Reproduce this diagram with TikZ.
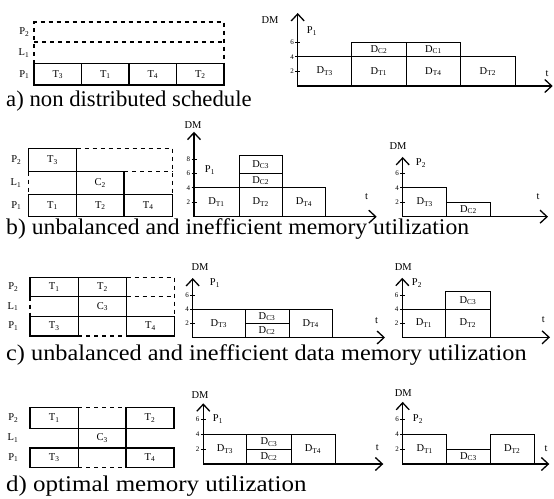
\documentclass[tikz,border=0pt]{standalone}
\usepackage{fontspec}
\usepackage{graphicx}
\setmainfont{Liberation Serif}
\usetikzlibrary{arrows.meta}
\tikzset{
  gline/.style={line width=1.3pt},
  gdash/.style={line width=1.3pt,dash pattern=on 4pt off 4pt},
  dbox/.style={line width=1pt},
  dmaxis/.style={line width=1.3pt,-{Straight Barb[length=7pt,width=13pt]}},
  dmtick/.style={line width=0.9pt},
  ticklbl/.style={anchor=east,inner sep=1pt,font=\fontsize{7}{8}\selectfont},
  lbl/.style={font=\fontsize{10.5}{12}\selectfont,inner sep=0.5pt},
  captxt/.style={anchor=west,inner sep=0pt,font=\fontsize{22.5}{24}\selectfont}
}
\begin{document}
\begin{tikzpicture}[x=1pt,y=-1pt]
\useasboundingbox (0,0) rectangle (554,498);

% a) non distributed schedule
\draw[gdash] (34,63.5) -- (34,22) -- (224,22) -- (224,63.5) (34,42) -- (224,42);
\draw[gline] (34,63.5) rectangle (224,85);
\draw[gline] (81.5,63.5) -- (81.5,85) (129,63.5) -- (129,85) (176.5,63.5) -- (176.5,85);
\foreach \x/\t in {57.8/3,105.3/1,152.8/4,200.3/2}
  \node[lbl] (aT\t) at (\x,74.5) {T\textsubscript{\t}};
\node[lbl,anchor=east] (aP2) at (30,32) {P\textsubscript{2}};
\node[lbl,anchor=east] (aL1) at (30,53) {L\textsubscript{1}};
\node[lbl,anchor=east] (aP1) at (30,74.5) {P\textsubscript{1}};
\begin{scope}[shift={(297.7,86)},y=7.3pt]
  \draw[dmaxis] (0,0) -- (0,10);
  \draw[dmaxis] (0,0) -- (255,0);
  \foreach \v in {2,4,6}
    \draw[dmtick] (-2.5,\v) -- (2.5,\v) node[ticklbl] (aV\v) at (-2.5,\v) {\v};
  \draw[dbox] (0,0) rectangle (54,4) node[midway,lbl] (aDT3) {D\textsubscript{T3}};
  \draw[dbox] (54,0) rectangle (108.3,4) node[midway,lbl] (aDT1) {D\textsubscript{T1}};
  \draw[dbox] (108.3,0) rectangle (163,4) node[midway,lbl] (aDT4) {D\textsubscript{T4}};
  \draw[dbox] (163,0) rectangle (217.3,4) node[midway,lbl] (aDT2) {D\textsubscript{T2}};
  \draw[dbox] (54,4) rectangle (108.3,6) node[midway,lbl] (aDC2) {D\textsubscript{C2}};
  \draw[dbox] (108.3,4) rectangle (163,6) node[midway,lbl] (aDC1) {D\textsubscript{C1}};
\end{scope}
\node[lbl] (aDM) at (270,20) {DM};
\node[lbl] (aPP) at (312,31) {P\textsubscript{1}};
\node[lbl] (at) at (547,74) {t};
\node[captxt] (acap) at (6,101) {\scalebox{1.01}[1]{a) non distributed schedule}};

% b) unbalanced and inefficient memory utilization
\draw[gline] (28.3,148.3) rectangle (76.7,171.7);
\draw[gline] (76.7,171.7) rectangle (124,194.3);
\draw[gline] (28.3,194.3) rectangle (172.3,216.7);
\draw[gline] (76.7,194.3) -- (76.7,216.7) (124,194.3) -- (124,216.7);
\draw[gdash] (76.7,148.3) -- (172.3,148.3) -- (172.3,194.3) (124,171.7) -- (172.3,171.7)
  (28.3,171.7) -- (28.3,194.3);
\node[lbl] (bT3) at (52.5,160) {T\textsubscript{3}};
\node[lbl] (bC2) at (100.3,183) {C\textsubscript{2}};
\node[lbl] (bT1) at (52.5,205.5) {T\textsubscript{1}};
\node[lbl] (bT2) at (100.3,205.5) {T\textsubscript{2}};
\node[lbl] (bT4) at (148.2,205.5) {T\textsubscript{4}};
\node[lbl,anchor=east] (bP2) at (22,160) {P\textsubscript{2}};
\node[lbl,anchor=east] (bL1) at (22,183) {L\textsubscript{1}};
\node[lbl,anchor=east] (bP1) at (22,205.5) {P\textsubscript{1}};
\begin{scope}[shift={(194,216.7)},y=7.2pt]
  \draw[dmaxis] (0,0) -- (0,11.8);
  \draw[dmaxis] (0,0) -- (182.7,0);
  \foreach \v in {2,4,6,8}
    \draw[dmtick] (-2.5,\v) -- (2.5,\v) node[ticklbl] (bV\v) at (-2.5,\v) {\v};
  \draw[dbox] (0,0) rectangle (45,4) node[midway,lbl] (bDT1) {D\textsubscript{T1}};
  \draw[dbox] (45,0) rectangle (88.3,4) node[midway,lbl] (bDT2) {D\textsubscript{T2}};
  \draw[dbox] (88.3,0) rectangle (131.7,4) node[midway,lbl] (bDT4) {D\textsubscript{T4}};
  \draw[dbox] (45,4) rectangle (88.3,6) node[midway,lbl] (bDC2) {D\textsubscript{C2}};
  \draw[dbox] (45,6) rectangle (88.3,8.5) node[midway,lbl] (bDC3) {D\textsubscript{C3}};
\end{scope}
\node[lbl] (bDM) at (193,125) {DM};
\node[lbl] (bPP) at (210,170) {P\textsubscript{1}};
\node[lbl] (bt) at (366.7,197) {t};
\begin{scope}[shift={(402.7,216.7)},y=7.2pt]
  \draw[dmaxis] (0,0) -- (0,8.3);
  \draw[dmaxis] (0,0) -- (145.3,0);
  \foreach \v in {2,4,6}
    \draw[dmtick] (-2.5,\v) -- (2.5,\v) node[ticklbl] (cV\v) at (-2.5,\v) {\v};
  \draw[dbox] (0,0) rectangle (44,4) node[midway,lbl] (bDT3) {D\textsubscript{T3}};
  \draw[dbox] (44,0) rectangle (87.3,2) node[midway,lbl] (bDC2r) {D\textsubscript{C2}};
\end{scope}
\node[lbl] (bDMr) at (398,146) {DM};
\node[lbl] (bPPr) at (421,163) {P\textsubscript{2}};
\node[lbl] (btr) at (538,197) {t};
\node[captxt] (bcap) at (6,229) {\scalebox{1.052}[1]{b) unbalanced and inefficient memory utilization}};

% c) unbalanced and inefficient data memory utilization
\draw[gline] (30,277.3) rectangle (78.3,296.7) (78.3,277.3) rectangle (126.7,296.7);
\draw[gline] (78.3,296.7) rectangle (126.7,316.7) (30,316.7) -- (174.3,316.7);
\draw[gline] (30,316.7) rectangle (78.3,336) (126.7,316.7) rectangle (174.3,336);
\draw[gdash] (126.7,277.3) -- (174.3,277.3) -- (174.3,316.7) (126.7,296.7) -- (174.3,296.7)
  (30,296.7) -- (30,316.7) (78.3,336) -- (126.7,336);
\node[lbl] (cT1) at (54.2,287) {T\textsubscript{1}};
\node[lbl] (cT2) at (102.5,287) {T\textsubscript{2}};
\node[lbl] (cC3) at (102.5,306.7) {C\textsubscript{3}};
\node[lbl] (cT3) at (54.2,326.3) {T\textsubscript{3}};
\node[lbl] (cT4) at (150.5,326.3) {T\textsubscript{4}};
\node[lbl,anchor=east] (cP2) at (19,287) {P\textsubscript{2}};
\node[lbl,anchor=east] (cL1) at (19,306.7) {L\textsubscript{1}};
\node[lbl,anchor=east] (cP1) at (19,326.3) {P\textsubscript{1}};
\begin{scope}[shift={(192.7,337.5)},y=7pt]
  \draw[dmaxis] (0,0) -- (0,8.5);
  \draw[dmaxis] (0,0) -- (192.3,0);
  \foreach \v in {2,4,6}
    \draw[dmtick] (-2.5,\v) -- (2.5,\v) node[ticklbl] (dV\v) at (-2.5,\v) {\v};
  \draw[dbox] (0,0) rectangle (52.3,4) node[midway,lbl] (cDT3) {D\textsubscript{T3}};
  \draw[dbox] (52.3,0) rectangle (96.3,2) node[midway,lbl] (cDC2) {D\textsubscript{C2}};
  \draw[dbox] (52.3,2) rectangle (96.3,4) node[midway,lbl] (cDC3) {D\textsubscript{C3}};
  \draw[dbox] (96.3,0) rectangle (139.7,4) node[midway,lbl] (cDT4) {D\textsubscript{T4}};
\end{scope}
\node[lbl] (cDM) at (200,266.7) {DM};
\node[lbl] (cPP) at (215,283) {P\textsubscript{1}};
\node[lbl] (ct) at (376.7,321) {t};
\begin{scope}[shift={(402.3,337.3)},y=7pt]
  \draw[dmaxis] (0,0) -- (0,8.5);
  \draw[dmaxis] (0,0) -- (147.7,0);
  \foreach \v in {2,4,6}
    \draw[dmtick] (-2.5,\v) -- (2.5,\v) node[ticklbl] (eV\v) at (-2.5,\v) {\v};
  \draw[dbox] (0,0) rectangle (43.4,4) node[midway,lbl] (cDT1) {D\textsubscript{T1}};
  \draw[dbox] (43.4,0) rectangle (87.7,4) node[midway,lbl] (cDT2) {D\textsubscript{T2}};
  \draw[dbox] (43.4,4) rectangle (87.7,6.5) node[midway,lbl] (cDC3r) {D\textsubscript{C3}};
\end{scope}
\node[lbl] (cDMr) at (403.3,266.7) {DM};
\node[lbl] (cPPr) at (417,283) {P\textsubscript{2}};
\node[lbl] (ctr) at (543.3,319.5) {t};
\node[captxt] (ccap) at (6,355) {\scalebox{1.08}[1]{c) unbalanced and inefficient data memory utilization}};

% d) optimal memory utilization
\draw[gline] (30,407.3) rectangle (78.3,428.5) (126,407.3) rectangle (174,428.5);
\draw[gline] (30,428.5) -- (174,428.5) (30,448) -- (174,448);
\draw[gline] (78.3,428.5) -- (78.3,448) (126,428.5) -- (126,448);
\draw[gline] (30,448) rectangle (78.3,467.3) (126,448) rectangle (174,467.3);
\draw[gdash] (78.3,407.3) -- (126,407.3) (78.3,467.3) -- (126,467.3);
\node[lbl] (dT1) at (54.2,418) {T\textsubscript{1}};
\node[lbl] (dT2) at (150,418) {T\textsubscript{2}};
\node[lbl] (dC3) at (102.2,438.3) {C\textsubscript{3}};
\node[lbl] (dT3) at (54.2,457.7) {T\textsubscript{3}};
\node[lbl] (dT4) at (150,457.7) {T\textsubscript{4}};
\node[lbl,anchor=east] (dP2) at (19,418) {P\textsubscript{2}};
\node[lbl,anchor=east] (dL1) at (19,438.3) {L\textsubscript{1}};
\node[lbl,anchor=east] (dP1) at (19,457.7) {P\textsubscript{1}};
\begin{scope}[shift={(203.3,464)},y=7.4pt]
  \draw[dmaxis] (0,0) -- (0,8.2);
  \draw[dmaxis] (0,0) -- (180,0);
  \foreach \v in {2,4,6}
    \draw[dmtick] (-2.5,\v) -- (2.5,\v) node[ticklbl] (fV\v) at (-2.5,\v) {\v};
  \draw[dbox] (0,0) rectangle (43.4,4) node[midway,lbl] (dDT3) {D\textsubscript{T3}};
  \draw[dbox] (43.4,0) rectangle (87.7,2) node[midway,lbl] (dDC2) {D\textsubscript{C2}};
  \draw[dbox] (43.4,2) rectangle (87.7,4) node[midway,lbl] (dDC3) {D\textsubscript{C3}};
  \draw[dbox] (87.7,0) rectangle (131.7,4) node[midway,lbl] (dDT4) {D\textsubscript{T4}};
\end{scope}
\node[lbl] (dDM) at (200,395) {DM};
\node[lbl] (dPP) at (218,419) {P\textsubscript{1}};
\node[lbl] (dt) at (377.3,448) {t};
\begin{scope}[shift={(402.7,464)},y=7.4pt]
  \draw[dmaxis] (0,0) -- (0,8.4);
  \draw[dmaxis] (0,0) -- (146.6,0);
  \foreach \v in {2,4,6}
    \draw[dmtick] (-2.5,\v) -- (2.5,\v) node[ticklbl] (gV\v) at (-2.5,\v) {\v};
  \draw[dbox] (0,0) rectangle (44,4) node[midway,lbl] (dDT1) {D\textsubscript{T1}};
  \draw[dbox] (44,0) rectangle (87.3,2) node[midway,lbl] (dDC3r) {D\textsubscript{C3}};
  \draw[dbox] (87.3,0) rectangle (131.6,4) node[midway,lbl] (dDT2) {D\textsubscript{T2}};
\end{scope}
\node[lbl] (dDMr) at (403.3,393.3) {DM};
\node[lbl] (dPPr) at (418,419.3) {P\textsubscript{2}};
\node[lbl] (dtr) at (546,449) {t};
\node[captxt] (dcap) at (6,486) {\scalebox{1.11}[1]{d) optimal memory utilization}};
\end{tikzpicture}
\end{document}
